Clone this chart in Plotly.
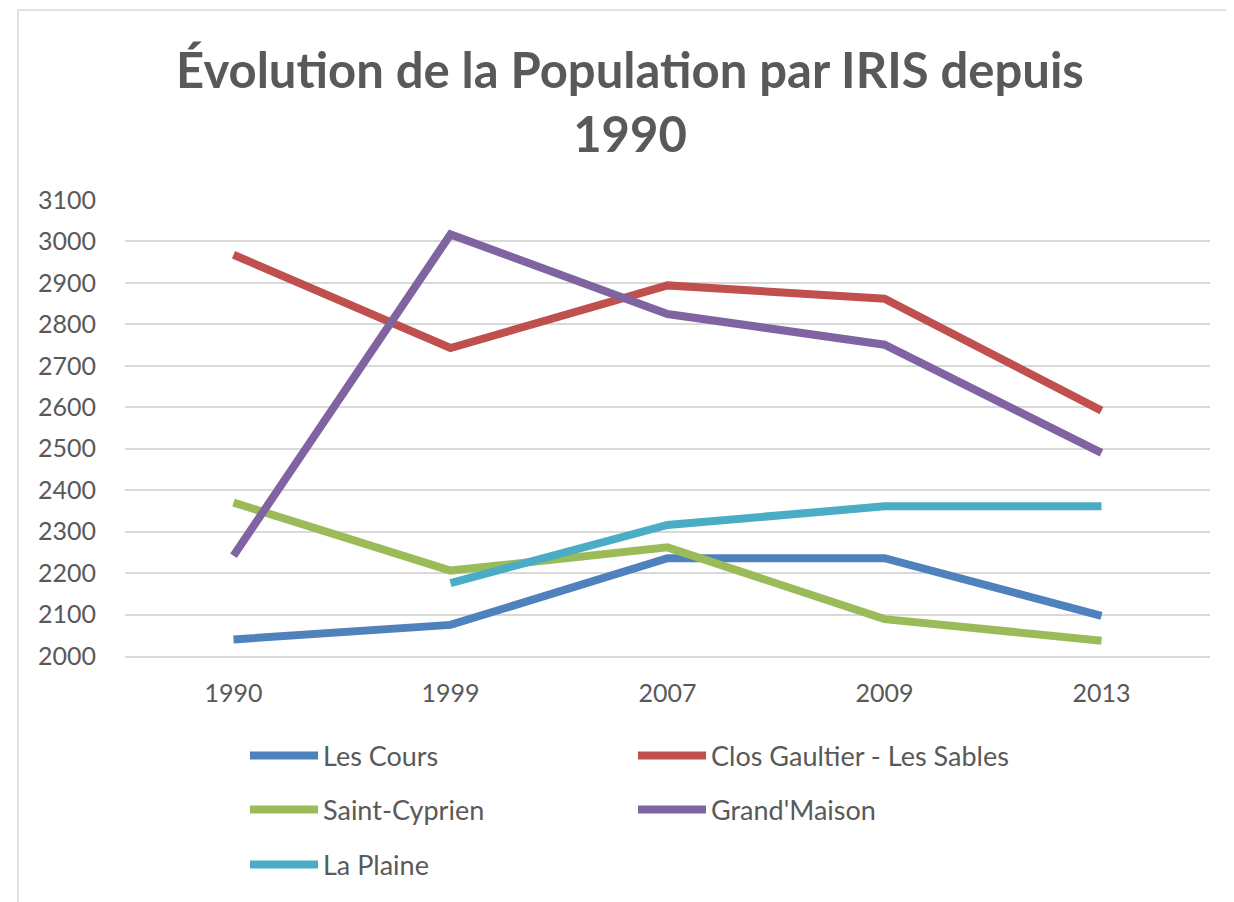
import plotly.graph_objects as go

years = ["1990", "1999", "2007", "2009", "2013"]
les_cours = [2040, 2075, 2236, 2236, 2097]
clos_gaultier = [2968, 2743, 2894, 2862, 2592]
saint_cyprien = [2370, 2206, 2262, 2089, 2037]
grand_maison = [2242, 3017, 2825, 2751, 2490]
la_plaine = [None, 2176, 2316, 2361, 2361]

series = [
    ("Les Cours", les_cours, "#4F81BD", "legend"),
    ("Clos Gaultier - Les Sables", clos_gaultier, "#C0504D", "legend"),
    ("Saint-Cyprien", saint_cyprien, "#9BBB59", "legend2"),
    ("Grand'Maison", grand_maison, "#8064A2", "legend2"),
    ("La Plaine", la_plaine, "#4BACC6", "legend3"),
]

fig = go.Figure()
for name, vals, color, leg in series:
    fig.add_trace(go.Scatter(
        x=years, y=vals, name=name, mode="lines",
        line=dict(color=color, width=8),
        connectgaps=False, legend=leg,
    ))

font_family = "Lato, 'Open Sans', sans-serif"
grey = "#595959"

# plot area in window px: left 125, right 1210, top 200, bottom 656 (figure offset 8px by page margin)
PH = 456.0
PW = 1085.0


def legend_row(center_px):
    return dict(
        orientation="h", x=(245 - 125) / PW, xanchor="left",
        y=-(center_px - 656) / PH, yanchor="middle", yref="paper",
        entrywidth=305, entrywidthmode="pixels",
        font=dict(size=27, color=grey, family=font_family),
        itemwidth=68, bgcolor="rgba(0,0,0,0)", borderwidth=0,
    )


fig.update_layout(
    width=1226, height=894,
    paper_bgcolor="white", plot_bgcolor="white",
    margin=dict(l=117, r=24, t=192, b=246),
    font=dict(family=font_family, color=grey, size=24),
    title=dict(
        text="<b>Évolution de la Population par IRIS depuis<br>1990</b>",
        x=(630 - 125) / PW, xanchor="center", xref="paper",
        y=1 - 80 / 894, yanchor="middle", yref="container",
        font=dict(size=49, color=grey, family=font_family),
    ),
    xaxis=dict(
        type="category", range=[-0.5, 4.5], showgrid=False, showline=True,
        linecolor="#D9D9D9", linewidth=1.5, ticks="", ticklabelstandoff=14,
        tickfont=dict(size=25, color=grey),
    ),
    yaxis=dict(
        range=[2000, 3100], dtick=100, showgrid=True,
        gridcolor="#D9D9D9", gridwidth=1.5, zeroline=False,
        showline=False, ticks="", ticklabelstandoff=28,
        tickfont=dict(size=25, color=grey),
    ),
    legend=legend_row(756),
    legend2=legend_row(810),
    legend3=legend_row(865),
    shapes=[dict(
        type="rect", xref="paper", yref="paper",
        x0=(18 - 125) / PW, x1=(1228 - 125) / PW,
        y0=-0.62, y1=(656 - 10) / PH,
        line=dict(color="#D9D9D9", width=1.5), fillcolor="rgba(0,0,0,0)",
        layer="below",
    )],
)

fig.write_html("out.html")
